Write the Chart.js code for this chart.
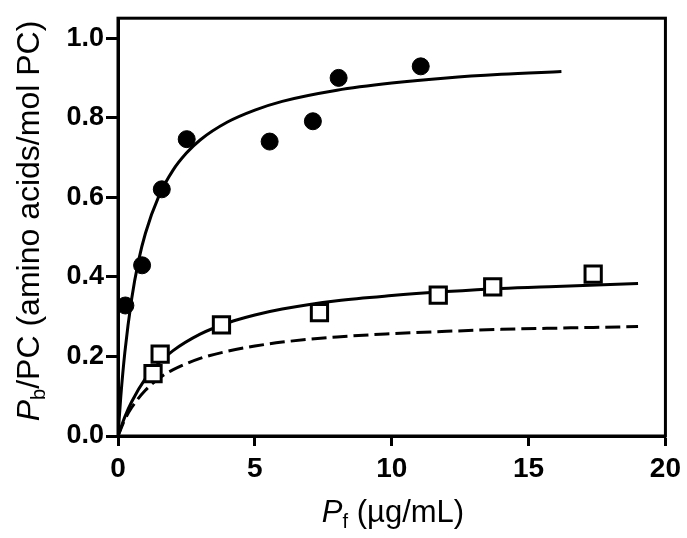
<!DOCTYPE html>
<html>
<head>
<meta charset="utf-8">
<script src="https://cdn.jsdelivr.net/npm/chart.js@4.4.1/dist/chart.umd.min.js"></script>
<style>
    html, body { margin: 0; padding: 0; background: #fff; }
    #wrap { position: relative; width: 687px; height: 538px; }
    #chart { position: absolute; left: 0; top: 0; }
    .axis-title { position: absolute; font-family: "Liberation Sans", Arial, sans-serif; font-size: 31px; color: #000; white-space: nowrap; line-height: 1; }
    .axis-title sub { font-size: 20px; vertical-align: -6px; line-height: 0; }
    #xTitle { left: 118px; width: 550px; top: 496px; text-align: center; }
    #yTitle { left: -212px; top: 205px; width: 480px; text-align: center; transform: rotate(-90deg); font-size: 32px; }
</style>
</head>
<body>
<div id="wrap">
    <canvas id="chart" width="687" height="538"></canvas>
    <div class="axis-title" id="xTitle"><i>P</i><sub>f</sub> (µg/mL)</div>
    <div class="axis-title" id="yTitle"><i>P</i><sub>b</sub>/PC (amino acids/mol PC)</div>
</div>
<script>
// 数据
const circleX = [0.27, 0.88, 1.6, 2.51, 5.54, 7.12, 8.06, 11.06];
const circleY = [0.328, 0.429, 0.62, 0.746, 0.74, 0.791, 0.90, 0.929];

const squareX = [1.28, 1.54, 3.78, 7.36, 11.7, 13.69, 17.36];
const squareY = [0.157, 0.206, 0.279, 0.31, 0.354, 0.375, 0.407];

// 拟合曲线
const upperX = [0, 0.1, 0.25, 0.5, 0.75, 1, 1.5, 2, 2.5, 3, 4, 5, 6, 8, 10, 12, 14, 16.2];
const upperY = [0, 0.097, 0.21, 0.345, 0.44, 0.509, 0.604, 0.667, 0.711, 0.744, 0.789, 0.819, 0.841, 0.869, 0.887, 0.900, 0.909, 0.916];

const lowerX = [0, 0.25, 0.5, 1, 1.5, 2, 3, 4, 5, 6, 8, 10, 12, 14, 16, 19];
const lowerY = [0, 0.048, 0.086, 0.144, 0.184, 0.214, 0.256, 0.284, 0.304, 0.319, 0.340, 0.353, 0.363, 0.371, 0.376, 0.383];

const dashX = [0, 0.25, 0.5, 1, 1.5, 2, 3, 4, 5, 6, 8, 10, 12, 14, 16, 19];
const dashY = [0, 0.041, 0.0715, 0.115, 0.145, 0.166, 0.195, 0.213, 0.226, 0.236, 0.249, 0.257, 0.263, 0.268, 0.271, 0.275];

const xTicks = [0, 5, 10, 15, 20];
const yTicks = [0.0, 0.2, 0.4, 0.6, 0.8, 1.0];

const toPts = (xs, ys) => xs.map((x, i) => ({ x: x, y: ys[i] }));

// 外框
const boxPlugin = {
    id: "box",
    afterDraw(chart) {
        const { ctx, chartArea: a } = chart;
        ctx.save();
        ctx.strokeStyle = "#000";
        ctx.lineWidth = 3;
        ctx.strokeRect(a.left, a.top, a.right - a.left, a.bottom - a.top);
        ctx.restore();
    }
};

const lineDs = (data, dash) => ({
    data: data,
    showLine: true,
    borderColor: "#000",
    borderWidth: 3,
    borderDash: dash || [],
    pointRadius: 0,
    pointHoverRadius: 0,
    cubicInterpolationMode: "monotone",
    fill: false,
    order: 2
});

const ctx = document.getElementById("chart").getContext("2d");
const chart = new Chart(ctx, {
    type: "scatter",
    data: {
        datasets: [
            lineDs(toPts(upperX, upperY)),
            lineDs(toPts(lowerX, lowerY)),
            lineDs(toPts(dashX, dashY), [15, 6]),
            {
                data: toPts(circleX, circleY),
                pointStyle: "circle",
                pointRadius: 8.5,
                backgroundColor: "#000",
                borderColor: "#000",
                borderWidth: 1,
                order: 0
            },
            {
                data: toPts(squareX, squareY),
                pointStyle: "rect",
                pointRadius: 11.5,
                backgroundColor: "#fff",
                borderColor: "#000",
                borderWidth: 3,
                order: 0
            }
        ]
    },
    options: {
        responsive: false,
        animation: false,
        events: [],
        layout: { padding: { left: 0, right: 19, top: 6, bottom: 0 } },
        plugins: {
            legend: { display: false },
            tooltip: { enabled: false }
        },
        scales: {
            x: {
                type: "linear",
                min: 0,
                max: 20,
                afterFit: (s) => { s.height = 102; },
                afterBuildTicks: (s) => { s.ticks = xTicks.map(v => ({ value: v })); },
                ticks: {
                    color: "#000",
                    padding: 6,
                    font: { family: "'Liberation Sans', Arial, sans-serif", size: 28, weight: "bold" },
                    callback: (v) => String(v)
                },
                grid: { display: true, drawOnChartArea: false, tickLength: 10, tickWidth: 3, color: "#000" },
                border: { display: true, width: 3, color: "#000" }
            },
            y: {
                type: "linear",
                min: 0,
                max: 1.05,
                afterFit: (s) => { s.width = 118; },
                afterBuildTicks: (s) => { s.ticks = yTicks.map(v => ({ value: v })); },
                ticks: {
                    color: "#000",
                    padding: 2,
                    font: { family: "'Liberation Sans', Arial, sans-serif", size: 27, weight: "bold" },
                    callback: (v) => Number(v).toFixed(1)
                },
                grid: { display: true, drawOnChartArea: false, tickLength: 12, tickWidth: 3, color: "#000" },
                border: { display: true, width: 3, color: "#000" }
            }
        }
    },
    plugins: [boxPlugin]
});
</script>
</body>
</html>
